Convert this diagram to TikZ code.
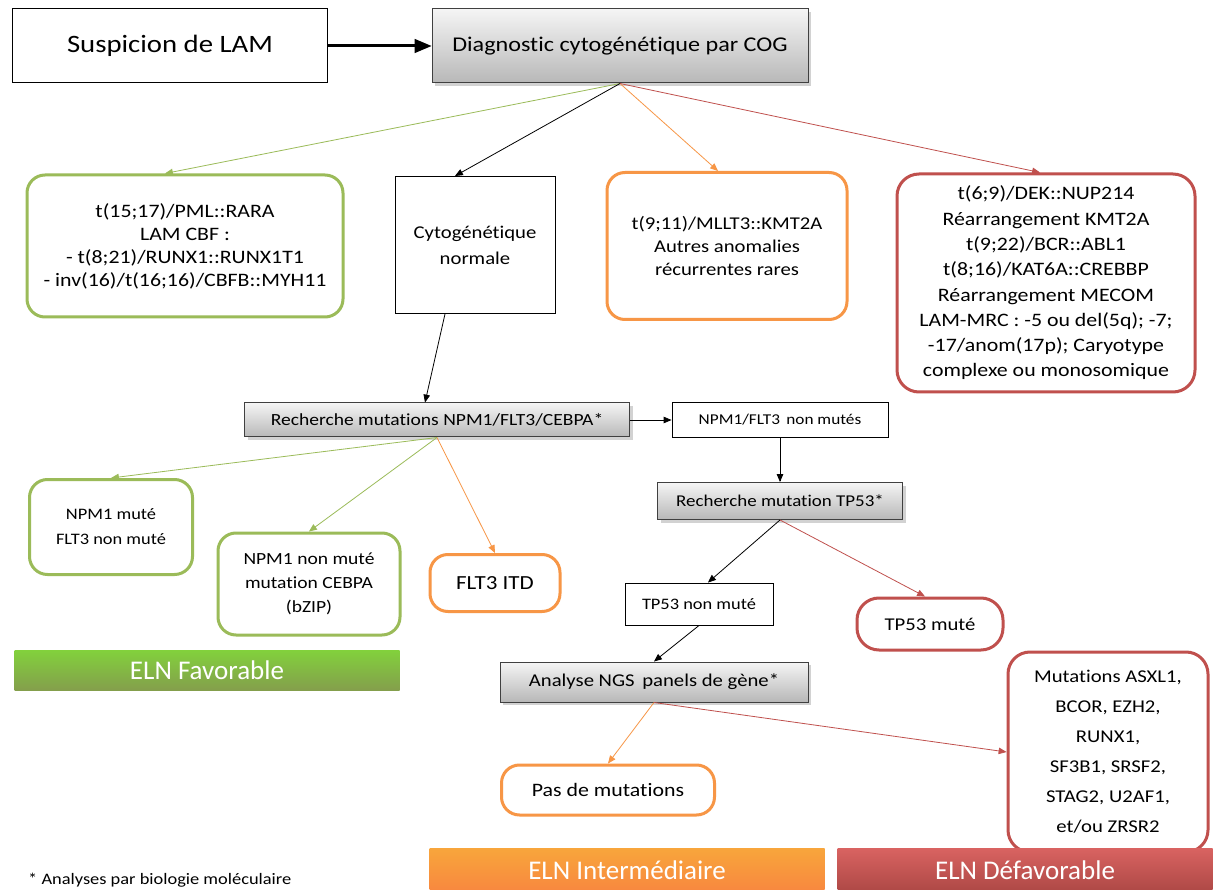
\documentclass[tikz,border=0pt]{standalone}
\usepackage{fontspec}
\setmainfont[FakeStretch=1.15, Ligatures=NoCommon]{Carlito}
\newfontfamily\barfont{Carlito}
\usetikzlibrary{positioning,arrows}
\usetikzlibrary{shadows}

\tikzstyle{every node}+=[align=center, inner sep=0pt]
\tikzstyle{plainbox} = [draw=black, line width=1pt, fill=white]
\tikzstyle{greybox} = [draw=black!75, line width=1pt, top color=white!96!black, bottom color=black!28, drop shadow={opacity=0.35,shadow xshift=3pt,shadow yshift=-3pt}]
\tikzstyle{favbox} = [draw=favgreen, line width=3pt, rounded corners=18pt, fill=white]
\tikzstyle{intbox} = [draw=intorange, line width=3pt, rounded corners=18pt, fill=white]
\tikzstyle{defbox} = [draw=defred, line width=3pt, rounded corners=22pt, fill=white]
\tikzstyle{elnbar} = [text=white, font=\barfont\fontsize{27}{30}\selectfont]
\tikzstyle{link} = [-triangle 45, line width=0.8pt]

\begin{document}
\begin{tikzpicture}[x=1pt, y=-1pt]
\definecolor{favgreen}{RGB}{155,187,89}
\definecolor{intorange}{RGB}{247,150,70}
\definecolor{defred}{RGB}{192,80,77}

\useasboundingbox[fill=white] (0,0) rectangle (1213,890);

% diagnostic
\node[plainbox, minimum width=315, minimum height=74, font=\fontsize{25}{28}\selectfont] (susp) at (170,46) {Suspicion de LAM};
\node[greybox, minimum width=376, minimum height=74, font=\fontsize{21}{25}\selectfont] (diag) at (620,46) {Diagnostic cytogénétique par COG};

\node[favbox, minimum width=316, minimum height=142, font=\fontsize{19}{23}\selectfont] (fav1) at (185,246) {t(15;17)/PML::RARA\\LAM CBF :\\- t(8;21)/RUNX1::RUNX1T1\\- inv(16)/t(16;16)/CBFB::MYH11};
\node[plainbox, minimum width=160, minimum height=137, font=\fontsize{18}{26}\selectfont] (cyto) at (475,245) {Cytogénétique\\normale};
\node[intbox, minimum width=240, minimum height=147, font=\fontsize{18}{23}\selectfont] (int1) at (727,246) {t(9;11)/MLLT3::KMT2A\\Autres anomalies\\récurrentes rares};
\node[defbox, minimum width=298, minimum height=218, font=\fontsize{19}{25.3}\selectfont] (def1) at (1046,283) {t(6;9)/DEK::NUP214\\Réarrangement KMT2A\\t(9;22)/BCR::ABL1\\t(8;16)/KAT6A::CREBBP\\Réarrangement MECOM\\LAM-MRC : -5 ou del(5q); -7;\\-17/anom(17p); Caryotype\\complexe ou monosomique};

% biologie moleculaire
\node[greybox, minimum width=385, minimum height=34, font=\fontsize{17}{20}\selectfont] (rech1) at (437,420) {Recherche mutations NPM1/FLT3/CEBPA*};
\node[plainbox, minimum width=216, minimum height=35, font=\fontsize{15}{18}\selectfont] (nonmut) at (780,420) {NPM1/FLT3\, non mutés};
\node[greybox, minimum width=245, minimum height=37, font=\fontsize{16.5}{19}\selectfont] (tp53rech) at (780,501) {Recherche mutation TP53*};

\node[favbox, minimum width=163, minimum height=95, font=\fontsize{16}{25}\selectfont] (fav2) at (111,527) {NPM1 muté\\FLT3 non muté};
\node[favbox, minimum width=182, minimum height=102, font=\fontsize{17}{24}\selectfont] (fav3) at (309,584) {NPM1 non muté\\mutation CEBPA\\(bZIP)};
\node[intbox, minimum width=130, minimum height=57, font=\fontsize{20}{22}\selectfont] (flt3) at (495,583) {FLT3 ITD};

\node[plainbox, minimum width=148, minimum height=42, font=\fontsize{16}{19}\selectfont] (tp53non) at (699,604) {TP53 non muté};
\node[defbox, minimum width=146, minimum height=52, font=\fontsize{18}{21}\selectfont] (tp53mut) at (930,624) {TP53 muté};
\node[greybox, minimum width=308, minimum height=40, font=\fontsize{18}{21}\selectfont] (ngs) at (654,682) {Analyse NGS\, panels de gène*};
\node[intbox, minimum width=213, minimum height=50, font=\fontsize{19}{22}\selectfont] (pasmut) at (608,790) {Pas de mutations};
\node[defbox, minimum width=200, minimum height=200, font=\fontsize{18}{30}\selectfont] (defmut) at (1108,752) {Mutations ASXL1,\\BCOR, EZH2,\\RUNX1,\\SF3B1, SRSF2,\\STAG2, U2AF1,\\et/ou ZRSR2};

% categories ELN
\node[elnbar, top color=favgreen!75!green!90!yellow, bottom color=favgreen!85!black, minimum width=385, minimum height=40] (elnfav) at (207,670) {ELN Favorable};
\node[elnbar, top color=intorange!85!yellow, bottom color=intorange!90!red, minimum width=395, minimum height=44] (elnint) at (627,870) {ELN Intermédiaire};
\node[elnbar, top color=defred!75!red!80!white, bottom color=defred!90!black, minimum width=375, minimum height=44] (elndef) at (1025,870) {ELN Défavorable};

\node[anchor=base west, font=\fontsize{16}{19}\selectfont] (note) at (28,884) {* Analyses par biologie moléculaire};

% liens
\draw[link, line width=3pt] (susp) -- (diag);
\draw[link, favgreen] (diag.south) -- ([xshift=-20pt]fav1.north);
\draw[link] (diag.south) -- ([xshift=-20pt]cyto.north);
\draw[link, intorange] (diag.south) -- ([xshift=-9pt]int1.north);
\draw[link, defred] (diag.south) -- ([xshift=-6pt]def1.north);
\draw[link] ([xshift=-30pt]cyto.south) -- ([xshift=-12pt]rech1.north);
\draw[link] (rech1) -- (nonmut);
\draw[link] (nonmut) -- (tp53rech);
\draw[link, favgreen] (rech1.south) -- (fav2.north);
\draw[link, favgreen] (rech1.south) -- (fav3.north);
\draw[link, intorange] (rech1.south) -- (flt3.north);
\draw[link] (tp53rech.south) -- ([xshift=9pt]tp53non.north);
\draw[link, defred] (tp53rech.south) -- ([xshift=-5pt]tp53mut.north);
\draw[link] (tp53non.south) -- (ngs.north);
\draw[link, intorange] (ngs.south) -- (pasmut.north);
\draw[link, defred] (ngs.south) -- (defmut.west);

\end{tikzpicture}
\end{document}
